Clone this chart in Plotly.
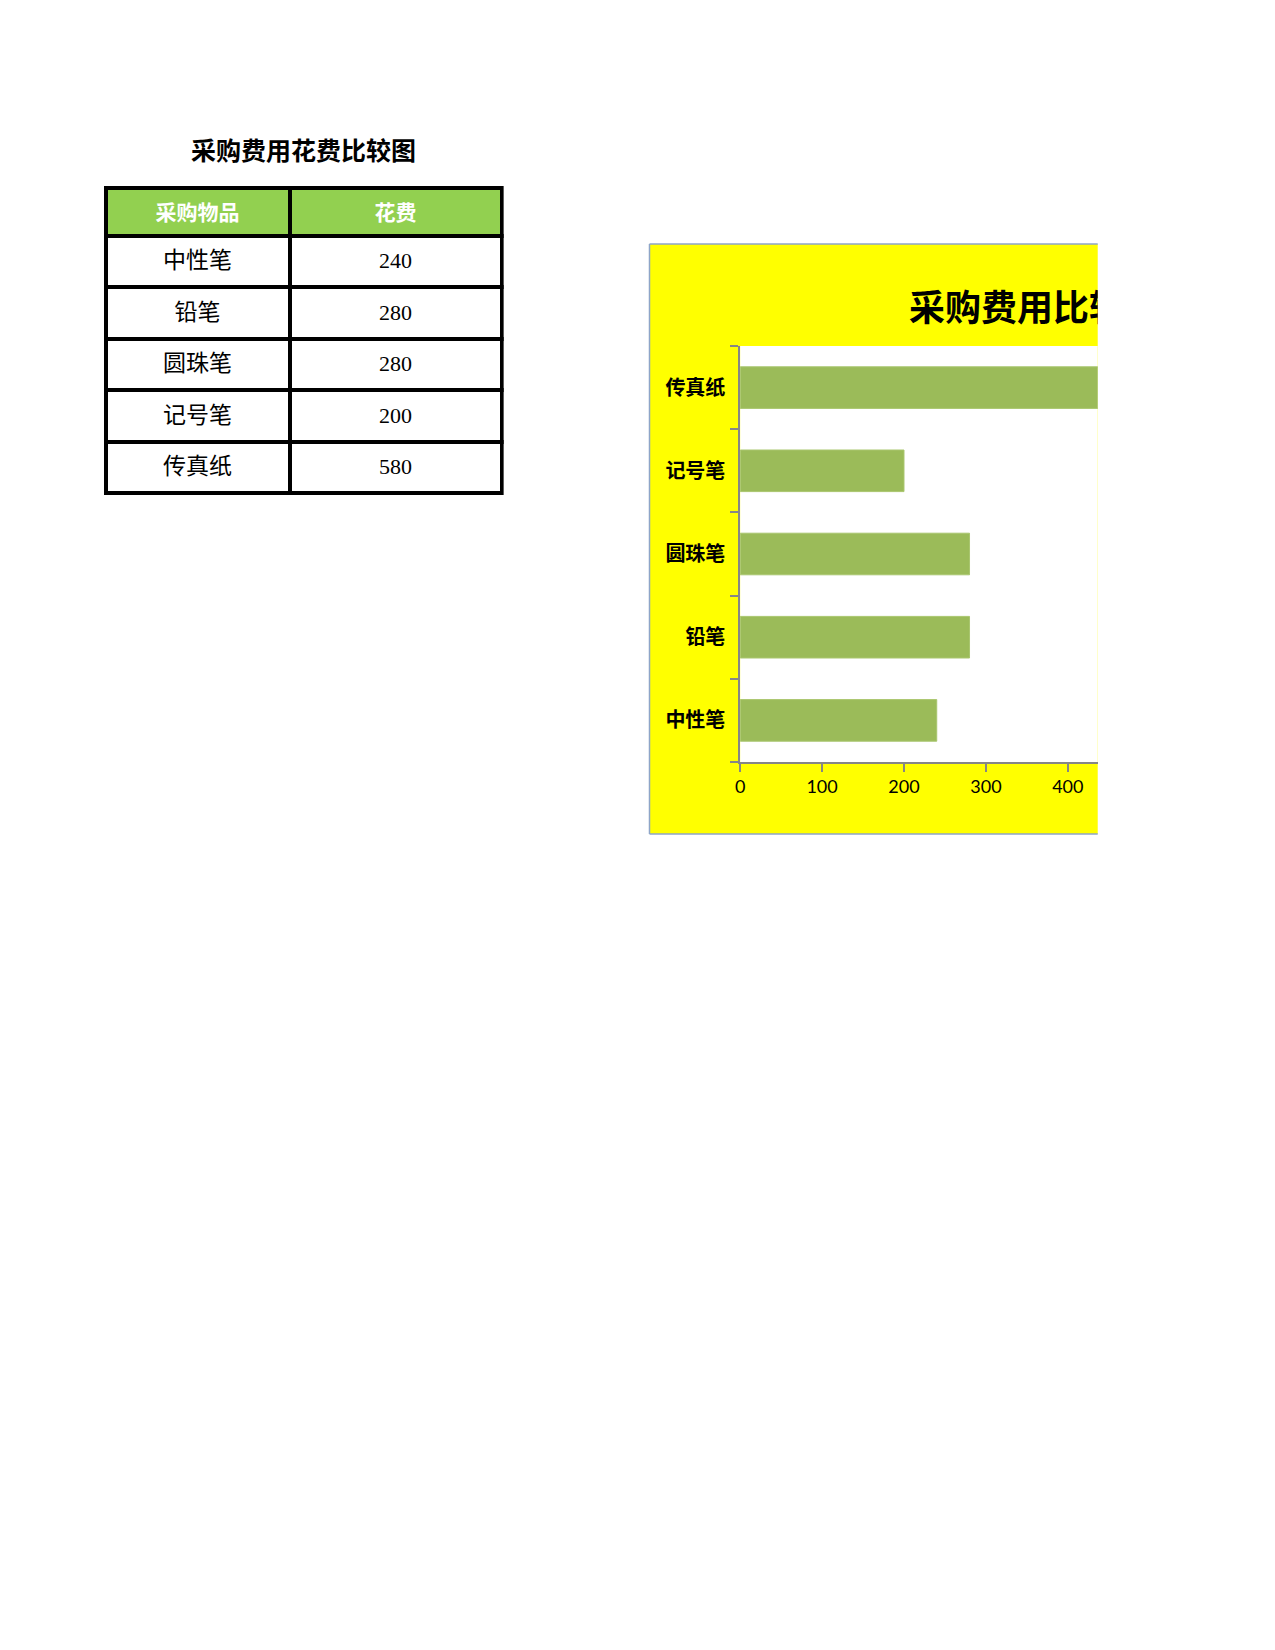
import plotly.graph_objects as go

W = 1275
H = 1650
OFF = 8  # body-rand der html-seite

# data
items = ['中性笔', '铅笔', '圆珠笔', '记号笔', '传真纸']
costs = [240, 280, 280, 200, 580]
table_header = ['采购物品', '花费']
table_title = '采购费用花费比较图'
chart_title = '采购费用比较图'
x_ticks = [0, 100, 200, 300, 400]

def fx(p):
    return (p - OFF) / W

def fy(p):
    return 1 - (p - OFF) / H

# plotly setzt den zellentext oben an -> unsichtbare kleine zeile davor
def vcenter(t, size, bg):
    return '<span style="color:%s">.</span><br><span style="font-size:%dpx">%s</span>' % (bg, size, t)

fig = go.Figure()

##tabelle##
fig.add_trace(go.Table(
    domain=dict(x=[fx(101), fx(499)], y=[fy(500), fy(188)]),
    columnwidth=[183, 211],
    header=dict(
        values=[vcenter(h, 21, '#92D050') for h in table_header],
        fill_color='#92D050',
        line=dict(color='black', width=4),
        font=dict(family='Noto Sans CJK SC', size=8, color='white', weight='bold'),
        align='center',
        height=48,
    ),
    cells=dict(
        values=[[vcenter(i, 23, 'white') for i in items],
                [vcenter(str(c), 22, 'white') for c in costs]],
        fill_color='white',
        line=dict(color='black', width=4),
        font=dict(family='Liberation Serif, Noto Sans CJK SC', size=11, color='black'),
        align='center',
        height=51.4,
    ),
))

fig.add_annotation(
    text=table_title, x=fx(300), y=fy(149), xref='paper', yref='paper',
    showarrow=False, xanchor='center', yanchor='middle',
    font=dict(family='Noto Sans CJK SC', size=25, color='black', weight='bold'),
)

##balken##
fig.add_trace(go.Bar(
    x=costs, y=items, orientation='h',
    marker=dict(color='#9BBB59', line=dict(color='#A9C66E', width=1)),
    xaxis='x', yaxis='y', hoverinfo='x+y',
))

# titel als text im eigenen subplot, damit er am rand abgeschnitten wird
fig.add_trace(go.Scatter(
    x=[1034], y=[0.33], mode='text', text=[chart_title],
    textposition='middle center', cliponaxis=True,
    textfont=dict(family='Noto Sans CJK SC', size=36, color='black', weight='bold'),
    xaxis='x2', yaxis='y2', hoverinfo='skip', showlegend=False,
))

axis_grey = '#868686'
frame_col = '#8EA5C8'

fig.update_layout(
    width=W, height=H,
    margin=dict(l=0, r=0, t=0, b=0),
    paper_bgcolor='white',
    plot_bgcolor='rgba(0,0,0,0)',
    showlegend=False,
    bargap=0.5,
    xaxis=dict(
        domain=[fx(738), fx(1097)], range=[0, 436.5],
        tickmode='array', tickvals=x_ticks,
        showline=True, linecolor=axis_grey, linewidth=1.5,
        ticks='outside', ticklen=8, tickcolor=axis_grey, tickwidth=1.5,
        showgrid=False, zeroline=False,
        tickfont=dict(family='Lato, Carlito, Calibri', size=18, color='black'),
        anchor='y', fixedrange=True,
    ),
    yaxis=dict(
        domain=[fy(762), fy(346)],
        showline=True, linecolor=axis_grey, linewidth=1.5,
        ticks='outside', ticklen=8, tickcolor=axis_grey, tickwidth=1.5,
        tickson='boundaries', ticklabelstandoff=9,
        showgrid=False, zeroline=False,
        tickfont=dict(family='Noto Sans CJK SC', size=20, color='black', weight='bold'),
        anchor='x', fixedrange=True,
    ),
    xaxis2=dict(
        domain=[fx(647), fx(1097)], range=[647, 1097], visible=False,
        anchor='y2', fixedrange=True,
    ),
    yaxis2=dict(
        domain=[fy(346), fy(244)], range=[0, 1], visible=False,
        anchor='x2', fixedrange=True,
    ),
    shapes=[
        # gelber hintergrund
        dict(type='rect', xref='paper', yref='paper',
             x0=fx(647), x1=fx(1097), y0=fy(834), y1=fy(244),
             fillcolor='#FFFF00', line=dict(width=0), layer='below'),
        # weisse plotflaeche
        dict(type='rect', xref='x domain', yref='y domain',
             x0=0, x1=1, y0=0, y1=1,
             fillcolor='white', line=dict(width=0), layer='below'),
        # rahmen
        dict(type='line', xref='paper', yref='paper',
             x0=fx(647), x1=fx(647), y0=fy(834), y1=fy(244),
             line=dict(color=frame_col, width=1.5)),
        dict(type='line', xref='paper', yref='paper',
             x0=fx(647), x1=fx(1097), y0=fy(244), y1=fy(244),
             line=dict(color=frame_col, width=1.5)),
        dict(type='line', xref='paper', yref='paper',
             x0=fx(647), x1=fx(1097), y0=fy(834), y1=fy(834),
             line=dict(color=frame_col, width=1.5)),
    ],
)

fig.write_html("out.html")
